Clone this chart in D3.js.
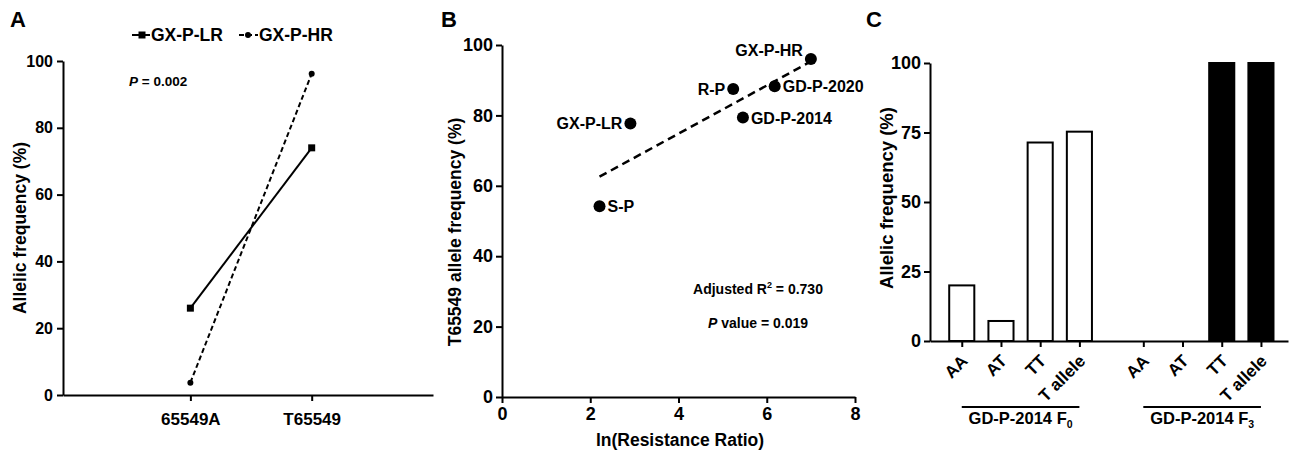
<!DOCTYPE html>
<meta charset="utf-8">
<style>
	body { margin: 0; background: #fff; }
	svg text { font-family: "Liberation Sans", Arial, sans-serif; font-weight: bold; fill: #000; }
	.axis path, .axis line { stroke: #000; stroke-width: 2px; }
</style>
<body>
<script src="https://cdn.jsdelivr.net/npm/d3@7"></script>
<script>

	// Panel A data
	var aCategories = ["65549A", "T65549"];
	var aLowRes = [26, 74];
	var aHighRes = [3.7, 96.2];
	var aTicks = [0, 20, 40, 60, 80, 100];

	// Panel B data
	var bNames = ["S-P", "GX-P-LR", "R-P", "GD-P-2014", "GD-P-2020", "GX-P-HR"];
	var bLnRR = [2.21, 2.91, 5.24, 5.46, 6.18, 7.0];
	var bFreq = [54.2, 77.7, 87.5, 79.4, 88.3, 96.0];
	var bXTicks = [0, 2, 4, 6, 8];
	var bYTicks = [0, 20, 40, 60, 80, 100];

	// Panel C data
	var cGenotypes = ["AA", "AT", "TT", "T allele"];
	var cF0 = [20, 7.2, 71.4, 75.3];
	var cF3 = [0, 0, 100, 100];
	var cTicks = [0, 25, 50, 75, 100];

	var svg = d3.select("body").append("svg")
		.attr("width", 1291)
		.attr("height", 450);

	function styleAxis(g, size) {
		g.attr("class", "axis")
			.attr("font-family", null)
			.attr("font-size", null);
		g.selectAll("text").style("font-size", size + "px");
	}

	//------------- Panel A -------------
	var aX = d3.scaleLinear().domain([-0.05, 3]).range([63, 433]);
	var aY = d3.scaleLinear().domain([0, 100]).range([395, 61]);

	svg.append("text").attr("x", 10).attr("y", 27).style("font-size", "22px").text("A");

	svg.append("g")
		.attr("transform", "translate(63,0)")
		.call(d3.axisLeft(aY).tickValues(aTicks).tickSize(6).tickPadding(4).tickSizeOuter(0))
		.call(styleAxis, 16);

	svg.append("g")
		.attr("transform", "translate(0,395)")
		.call(d3.axisBottom(aX).tickValues([1, 2]).tickSize(6).tickPadding(12).tickSizeOuter(0)
			.tickFormat(function(d) { return aCategories[d - 1]; }))
		.call(styleAxis, 17);

	svg.append("text")
		.attr("transform", "translate(26,228) rotate(-90)")
		.attr("text-anchor", "middle")
		.style("font-size", "17.5px")
		.text("Allelic frequency (%)");

	var aLine = d3.line()
		.x(function(d, i) { return aX(i + 1); })
		.y(function(d) { return aY(d); });

	svg.append("path").datum(aLowRes)
		.attr("d", aLine).attr("fill", "none")
		.attr("stroke", "#000").attr("stroke-width", 2);
	svg.append("path").datum(aHighRes)
		.attr("d", aLine).attr("fill", "none")
		.attr("stroke", "#000").attr("stroke-width", 2)
		.attr("stroke-dasharray", "5,3");

	svg.selectAll(".sqA").data(aLowRes).enter().append("rect")
		.attr("x", function(d, i) { return aX(i + 1) - 3.5; })
		.attr("y", function(d) { return aY(d) - 3.5; })
		.attr("width", 7).attr("height", 7).attr("fill", "#000");
	svg.selectAll(".ciA").data(aHighRes).enter().append("circle")
		.attr("cx", function(d, i) { return aX(i + 1); })
		.attr("cy", function(d) { return aY(d); })
		.attr("r", 3).attr("fill", "#000");

	// legend
	var leg = svg.append("g");
	leg.append("line").attr("x1", 132).attr("x2", 150).attr("y1", 35).attr("y2", 35)
		.attr("stroke", "#000").attr("stroke-width", 2);
	leg.append("rect").attr("x", 138.5).attr("y", 31.5).attr("width", 7).attr("height", 7);
	leg.append("text").attr("x", 151).attr("y", 41).style("font-size", "17.5px").text("GX-P-LR");
	leg.append("line").attr("x1", 239).attr("x2", 258).attr("y1", 35).attr("y2", 35)
		.attr("stroke", "#000").attr("stroke-width", 2).attr("stroke-dasharray", "5,3");
	leg.append("circle").attr("cx", 248).attr("cy", 35).attr("r", 3);
	leg.append("text").attr("x", 259).attr("y", 41).style("font-size", "17.5px").text("GX-P-HR");

	var pA = svg.append("text").attr("x", 129).attr("y", 86).style("font-size", "13.5px");
	pA.append("tspan").style("font-style", "italic").text("P");
	pA.append("tspan").text(" = 0.002");

	//------------- Panel B -------------
	var bX = d3.scaleLinear().domain([0, 8]).range([502, 855]);
	var bY = d3.scaleLinear().domain([0, 100]).range([397, 45]);

	svg.append("text").attr("x", 441).attr("y", 27).style("font-size", "22px").text("B");

	svg.append("g")
		.attr("transform", "translate(502,0)")
		.call(d3.axisLeft(bY).tickValues(bYTicks).tickSize(6).tickPadding(3).tickSizeOuter(0))
		.call(styleAxis, 18);
	svg.append("g")
		.attr("transform", "translate(0,397)")
		.call(d3.axisBottom(bX).tickValues(bXTicks).tickSize(6).tickPadding(4).tickSizeOuter(0))
		.call(styleAxis, 18);

	svg.append("text")
		.attr("transform", "translate(461,232) rotate(-90)")
		.attr("text-anchor", "middle")
		.style("font-size", "17.5px")
		.text("T65549 allele frequency (%)");
	svg.append("text")
		.attr("x", 680).attr("y", 446)
		.attr("text-anchor", "middle")
		.style("font-size", "17.5px")
		.text("ln(Resistance Ratio)");

	// least-squares fit through the points
	var mx = d3.mean(bLnRR), my = d3.mean(bFreq);
	var sxy = d3.sum(bLnRR, function(x, i) { return (x - mx) * (bFreq[i] - my); });
	var sxx = d3.sum(bLnRR, function(x) { return (x - mx) * (x - mx); });
	var slope = sxy / sxx, icpt = my - slope * mx;
	var xr = d3.extent(bLnRR);
	svg.append("line")
		.attr("x1", bX(xr[0])).attr("y1", bY(icpt + slope * xr[0]))
		.attr("x2", bX(xr[1])).attr("y2", bY(icpt + slope * xr[1]))
		.attr("stroke", "#000").attr("stroke-width", 2.5)
		.attr("stroke-dasharray", "8,5");

	svg.selectAll(".dotB").data(bNames).enter().append("circle")
		.attr("cx", function(d, i) { return bX(bLnRR[i]); })
		.attr("cy", function(d, i) { return bY(bFreq[i]); })
		.attr("r", 6).attr("fill", "#000");

	var leftSide = { "GX-P-HR": 1, "R-P": 1, "GX-P-LR": 1 };
	svg.selectAll(".labB").data(bNames).enter().append("text")
		.attr("x", function(d, i) { return bX(bLnRR[i]) + (leftSide[d] ? -8 : 8); })
		.attr("y", function(d, i) { return bY(bFreq[i]) + (d === "GX-P-HR" ? -3 : 6); })
		.attr("text-anchor", function(d) { return leftSide[d] ? "end" : "start"; })
		.style("font-size", "16px")
		.text(function(d) { return d; });

	var r2 = svg.append("text").attr("x", 758).attr("y", 294)
		.attr("text-anchor", "middle").style("font-size", "14px");
	r2.append("tspan").text("Adjusted R");
	r2.append("tspan").attr("dy", -6).style("font-size", "9px").text("2");
	r2.append("tspan").attr("dy", 6).text(" = 0.730");
	var pB = svg.append("text").attr("x", 758).attr("y", 328)
		.attr("text-anchor", "middle").style("font-size", "14px");
	pB.append("tspan").style("font-style", "italic").text("P");
	pB.append("tspan").text(" value = 0.019");

	//------------- Panel C -------------
	var cPos = [0, 1, 2, 3, 4.63, 5.63, 6.63, 7.63];
	var cX = d3.scaleLinear().domain([-0.81, 8.32]).range([930, 1288]);
	var cY = d3.scaleLinear().domain([0, 100]).range([341, 63]);
	var barW = cX(0.64) - cX(0);

	svg.append("text").attr("x", 866).attr("y", 27).style("font-size", "22px").text("C");

	var cBars = cF0.map(function(v, i) { return { v: v, p: cPos[i], fill: "#fff" }; })
		.concat(cF3.map(function(v, i) { return { v: v, p: cPos[i + 4], fill: "#000" }; }));

	svg.selectAll(".barC").data(cBars.filter(function(d) { return d.v > 0; })).enter().append("rect")
		.attr("x", function(d) { return cX(d.p) - barW / 2; })
		.attr("y", function(d) { return cY(d.v); })
		.attr("width", barW)
		.attr("height", function(d) { return cY(0) - cY(d.v); })
		.attr("fill", function(d) { return d.fill; })
		.attr("stroke", "#000").attr("stroke-width", 2);

	svg.append("g")
		.attr("transform", "translate(930,0)")
		.call(d3.axisLeft(cY).tickValues(cTicks).tickSize(6).tickPadding(3).tickSizeOuter(0))
		.call(styleAxis, 18);

	// x axis: ticks only, rotated labels drawn separately
	svg.append("g")
		.attr("transform", "translate(0,341)")
		.call(d3.axisBottom(cX).tickValues(cPos).tickSize(6).tickSizeOuter(0).tickFormat(""))
		.call(styleAxis, 16);

	svg.selectAll(".labC").data(cPos).enter().append("text")
		.attr("transform", function(d) { return "translate(" + (cX(d) + 7) + ",362) rotate(-45)"; })
		.attr("text-anchor", "end")
		.style("font-size", "17px")
		.text(function(d, i) { return cGenotypes[i % 4]; });

	svg.append("text")
		.attr("transform", "translate(893,198) rotate(-90)")
		.attr("text-anchor", "middle")
		.style("font-size", "18.5px")
		.text("Allelic frequency (%)");

	var groups = [["GD-P-2014 F", "0", 0], ["GD-P-2014 F", "3", 4]];
	groups.forEach(function(g) {
		var x1 = cX(cPos[g[2]]), x2 = cX(cPos[g[2] + 3]);
		svg.append("line").attr("x1", x1).attr("x2", x2).attr("y1", 407).attr("y2", 407)
			.attr("stroke", "#000").attr("stroke-width", 2);
		var t = svg.append("text").attr("x", (x1 + x2) / 2).attr("y", 424)
			.attr("text-anchor", "middle").style("font-size", "16.5px");
		t.append("tspan").text(g[0]);
		t.append("tspan").attr("dy", 4).style("font-size", "10.5px").text(g[1]);
	});

</script>
</body>
